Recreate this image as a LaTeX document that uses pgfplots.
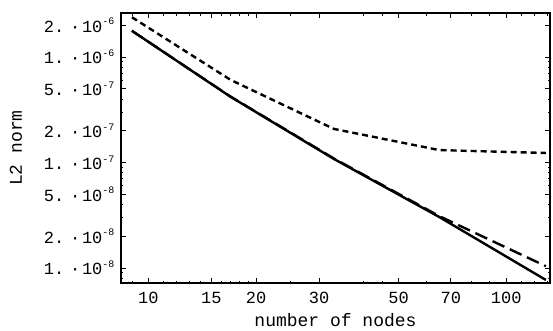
\documentclass[border=0pt]{standalone}
\usepackage{fontspec}
\setmainfont{Liberation Mono}
\setmonofont{Liberation Mono}
\usepackage{pgfplots}
\pgfplotsset{compat=1.18}
\newcommand{\lbl}[2]{#1\kern0.35em·\kern0.1em10\raisebox{0.42em}{\fontsize{10}{10}\selectfont#2}}

\begin{document}
\begin{tikzpicture}
\begin{axis}[
  name=ax,
  width=429pt, height=270pt, scale only axis,
  xmode=log, ymode=log,
  xmin=8.39, xmax=132.5, ymin=7.2e-9, ymax=2.61e-6,
  axis line style={line width=1.2pt},
  tick align=inside,
  major tick length=5pt, minor tick length=2.5pt,
  every tick/.style={black, line width=0.8pt},
  xtick={10,15,20,30,50,70,100},
  xticklabels={10,15,20,30,50,70,100},
  minor xtick={9,11,12,13,14,16,17,18,19,25,40,45,60,80,90,110,120,130},
  ytick={1e-8,2e-8,5e-8,1e-7,2e-7,5e-7,1e-6,2e-6},
  yticklabels={\lbl{1.}{-8},\lbl{2.}{-8},\lbl{5.}{-8},\lbl{1.}{-7},\lbl{2.}{-7},\lbl{5.}{-7},\lbl{1.}{-6},\lbl{2.}{-6}},
  minor ytick={8e-9,9e-9,3e-8,4e-8,6e-8,7e-8,8e-8,9e-8,3e-7,4e-7,6e-7,7e-7,8e-7,9e-7},
  tick label style={font=\fontsize{17}{18}\selectfont},
  xticklabel style={yshift=-6pt},
  yticklabel style={xshift=-3pt},
  xlabel={number of nodes}, ylabel={L2 norm},
  every axis x label/.style={at={(rel axis cs:0.5,-0.138)}, anchor=center, font=\fontsize{18}{20}\selectfont},
  every axis y label/.style={at={(rel axis cs:-0.2448,0.5)}, anchor=center, rotate=90, font=\fontsize{18}{20}\selectfont},
]
\addplot[black, line width=2.4pt] coordinates {
  (9,1.77e-6) (17,4.18e-7) (33,1.08e-7) (65,3.04e-8) (129,7.7e-9)};
\addplot[black, line width=2.4pt, dash pattern=on 13pt off 6pt] coordinates {
  (9,1.77e-6) (17,4.2e-7) (33,1.09e-7) (65,3.1e-8) (129,1.04e-8)};
\addplot[black, line width=2.4pt, dash pattern=on 6pt off 4pt] coordinates {
  (9,2.38e-6) (17,6.05e-7) (33,2.08e-7) (65,1.31e-7) (129,1.23e-7)};
\end{axis}
\pgfresetboundingbox
\path ([xshift=-121pt,yshift=-47pt]ax.south west) rectangle ([xshift=3pt,yshift=13pt]ax.north east);
\end{tikzpicture}
\end{document}
